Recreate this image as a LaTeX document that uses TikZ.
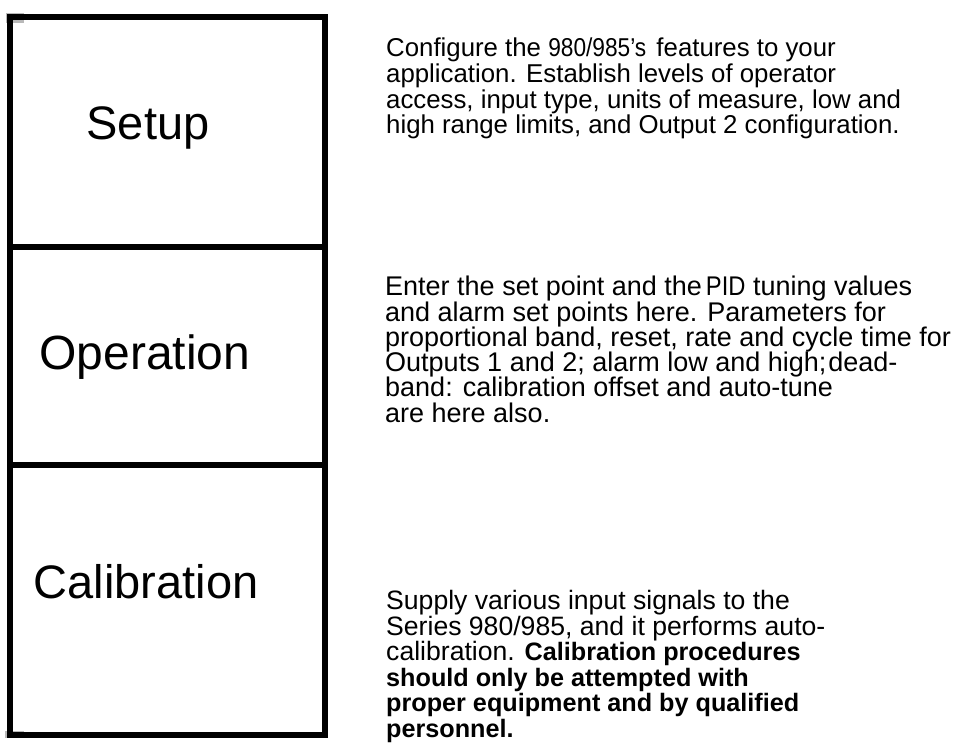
\documentclass[tikz,border=0pt]{standalone}
\usepackage{fontspec}
\setmainfont{Liberation Sans}
\newfontfamily\narrowdigits[FakeStretch=0.88]{Liberation Sans}
\newcommand{\boldpart}{\fontsize{25.2}{25.6}\selectfont\bfseries}
\begin{document}
\begin{tikzpicture}[x=1pt,y=-1pt,
  panel/.style={draw=black,line width=6pt,rectangle,inner sep=0pt,minimum width=315pt},
  heading/.style={inner sep=0pt,font=\fontsize{47}{50}\selectfont},
  blurb/.style={inner sep=0pt,anchor=north west,align=left}]
\useasboundingbox (0,0) rectangle (957,746);
% small grey specks at the left corners of the frame
\fill[gray!55] (6,13) rectangle (24,23);
\fill[gray!55] (5,731) rectangle (24,738);
% the three stacked panels
\node[panel,minimum height=230pt] (setupbox) at (167.5,132) {};
\node[panel,minimum height=218pt] (operbox) at (167.5,356) {};
\node[panel,minimum height=270pt] (calbox) at (167.5,600) {};
% panel titles
\node[heading] (setup) at (148,128) {Setup};
\node[heading,font=\fontsize{48}{50}\selectfont] (oper) at (145,357) {Operation};
\node[heading] (cal) at (146,582) {Calibration};
% descriptions
\node[blurb,font=\fontsize{25.8}{25.7}\selectfont] (setuptext) at (386,38)
{Configure the {\narrowdigits 980/985’s}\hspace{3pt} features to your\\
application. Establish levels of operator\\
access, input type, units of measure, low and\\
high range limits, and Output 2 configuration.};
\node[blurb,font=\fontsize{27}{25.3}\selectfont] (opertext) at (385,276)
{Enter the set point and the\hspace{4pt}{\narrowdigits PID} tuning values\\
and alarm set points here. Parameters for\\
proportional band, reset, rate and cycle time for\\
Outputs 1 and 2; alarm low and high;\hspace{2pt}dead-\\
band: calibration offset and auto-tune\\
are here also.};
\node[blurb,font=\fontsize{26.6}{25.6}\selectfont] (caltext) at (386,590)
{Supply various input signals to the\\
Series 980/985, and it performs auto-\\
calibration. {\boldpart Calibration procedures}\\
{\boldpart should only be attempted with}\\
{\boldpart proper equipment and by qualified}\\
{\boldpart personnel.}};
\end{tikzpicture}
\end{document}
